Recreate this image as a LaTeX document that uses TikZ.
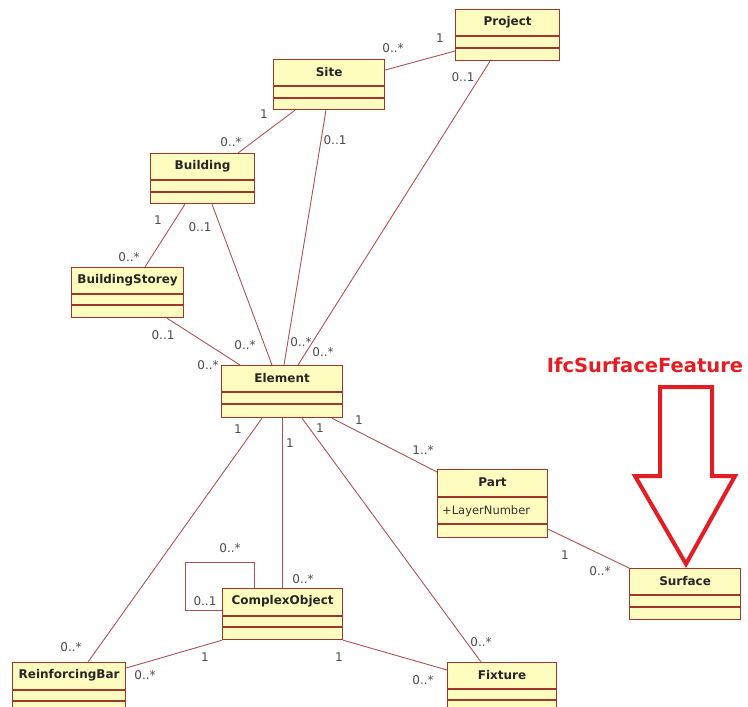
\documentclass[tikz,border=0pt]{standalone}
\usepackage{fontspec}
\setmainfont{DejaVu Sans}
\definecolor{boxfill}{RGB}{255,252,192}
\definecolor{boxedge}{RGB}{160,55,45}
\definecolor{assocline}{RGB}{172,82,82}
\definecolor{multtext}{RGB}{75,75,75}
\definecolor{featred}{RGB}{228,28,36}

\tikzset{
  classbox/.style={draw=boxedge, fill=boxfill, line width=1.2pt, inner sep=0pt},
  classname/.style={font=\fontsize{12}{14}\selectfont\bfseries, text=black!85},
  classline/.style={draw=boxedge, line width=1.2pt},
  assoc/.style={draw=assocline, line width=0.9pt},
  mult/.style={font=\fontsize{12}{14}\selectfont, text=multtext, inner sep=0pt},
}

% name, left, top, width, height, title, first and second divider
\newcommand{\umlclass}[8]{%
  \node[classbox, minimum width=#4, minimum height=#5, anchor=north west] (#1) at (#2,#3) {};
  \node[classname] (#1-name) at ([yshift=-13.5pt]#1.north) {#6};
  \draw[classline] ([yshift=-#7pt]#1.north west) -- ([yshift=-#7pt]#1.north east);
  \draw[classline] ([yshift=-#8pt]#1.north west) -- ([yshift=-#8pt]#1.north east);
}

\begin{document}
\begin{tikzpicture}[x=1pt,y=-1pt]
  \useasboundingbox (0,0) rectangle (748,707);
  \clip (0,0) rectangle (748,707);

  \umlclass{Project}{455}{9}{104}{51}{Project}{27}{39}
  \umlclass{Site}{273}{59}{111}{50}{Site}{27}{39}
  \umlclass{Building}{150}{153}{104}{50}{Building}{27}{39}
  \umlclass{BuildingStorey}{71}{267}{112}{50}{BuildingStorey}{27}{38}
  \umlclass{Element}{221}{365}{121}{52}{Element}{27}{39}
  \umlclass{Part}{437}{469}{110}{68}{Part}{28}{55}
  \umlclass{ComplexObject}{222}{588}{120}{51}{ComplexObject}{28}{39}
  \umlclass{ReinforcingBar}{12}{662}{113}{50}{ReinforcingBar}{28}{39}
  \umlclass{Fixture}{447}{662}{109}{50}{Fixture}{27}{38}
  \umlclass{Surface}{629}{568}{111}{51}{Surface}{27}{39}
  \node[anchor=west, inner sep=0pt, font=\fontsize{11.5}{13}\selectfont, text=black!80] (Part-attr) at ([xshift=5pt,yshift=-42pt]Part.north west) {+LayerNumber};

  % associations
  \draw[assoc] ([yshift=-11pt]Site.north east) -- ([yshift=-42pt]Project.north west);
  \draw[assoc] ([xshift=22pt]Site.south west) -- ([xshift=88pt]Building.north west);
  \draw[assoc] ([xshift=53pt]Site.south west) -- ([xshift=63pt]Element.north west);
  \draw[assoc] ([xshift=35pt]Project.south west) -- ([xshift=77pt]Element.north west);
  \draw[assoc] ([xshift=62pt]Building.south west) -- ([xshift=51pt]Element.north west);
  \draw[assoc] ([xshift=35pt]Building.south west) -- ([xshift=74pt]BuildingStorey.north west);
  \draw[assoc] ([xshift=96pt]BuildingStorey.south west) -- ([xshift=19pt]Element.north west);
  \draw[assoc] ([xshift=111pt]Element.south west) -- ([yshift=-3pt]Part.north west);
  \draw[assoc] ([xshift=41pt]Element.south west) -- ([xshift=76pt]ReinforcingBar.north west);
  \draw[assoc] ([xshift=61pt]Element.south west) -- ([xshift=60pt]ComplexObject.north west);
  \draw[assoc] ([xshift=81pt]Element.south west) -- ([xshift=34pt]Fixture.north west);
  \draw[assoc] (ComplexObject.south west) -- ([yshift=-6pt]ReinforcingBar.north east);
  \draw[assoc] (ComplexObject.south east) -- ([yshift=-8pt]Fixture.north west);
  \draw[assoc] ([yshift=9pt]Part.south east) -- (Surface.north west);
  \draw[assoc] ([xshift=32pt]ComplexObject.north west) -- ++(0,-26) -| ++(-69,48) -- ([yshift=-22pt]ComplexObject.north west);

  % multiplicities
  \foreach \x/\y/\t [count=\i] in {393/48/0..*, 440/38/1, 463/77/0..1, 264/114/1, 231/142/0..*,
      335/140/0..1, 158/220/1, 200/227/0..1, 129/257/0..*, 163/335/0..1, 245/345/0..*,
      301/342/0..*, 323/352/0..*, 208/365/0..*, 238/429/1, 290/443/1, 320/428/1, 359/420/1,
      423/450/1..*, 230/548/0..*, 205/601/0..1, 303/579/0..*, 71/647/0..*, 145/675/0..*,
      205/657/1, 339/657/1, 481/642/0..*, 423/680/0..*, 565/555/1, 600/571/0..*}
    \node[mult] (m\i) at (\x,\y) {\t};

  % IfcSurfaceFeature arrow
  \node[font=\fontsize{19.5}{22}\selectfont\bfseries, text=featred] (feature) at (645,365) {IfcSurfaceFeature};
  \draw[featred, line width=4pt, line join=miter] (660,387) -- (712,387) -- (712,476) -- (735,476) -- (686,564) -- (635,476) -- (660,476) -- cycle;
\end{tikzpicture}
\end{document}
